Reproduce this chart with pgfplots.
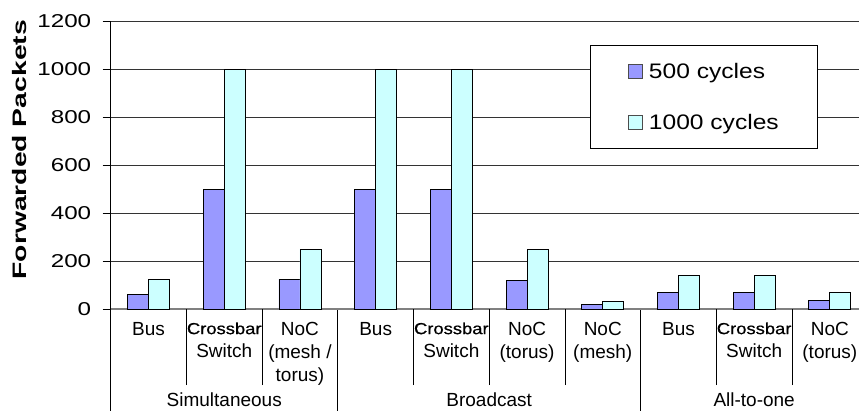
\documentclass[border=0pt]{standalone}
\usepackage{fontspec}
\setmainfont{Liberation Sans}
\newfontfamily\wideA[FakeStretch=1.3]{Liberation Sans}
\newfontfamily\wideB[FakeStretch=1.17]{Liberation Sans}
\newfontfamily\wideC[FakeStretch=1.15,FakeBold=0.6]{Liberation Sans}
\newfontfamily\ylabfont[FakeStretch=1.45]{Liberation Sans}
\usepackage{pgfplots}
\pgfplotsset{compat=1.18}
\definecolor{barA}{HTML}{9999FF}
\definecolor{barB}{HTML}{CCFFFF}
\pgfplotsset{mylegend/.style={legend image code/.code={\draw[##1, draw=black!70, line width=0.6pt] (0pt,-7pt) rectangle (14pt,7pt);}}}
\begin{document}
\begin{tikzpicture}
\begin{axis}[
  scale only axis, width=748.3pt, height=288pt,
  xmin=-0.5, xmax=9.385, ymin=0, ymax=1200,
  ybar=0pt, bar width=21pt,
  every axis plot post/.append style={mylegend},
  clip=false,
  axis x line*=bottom, axis y line*=left,
  ytick={0,200,...,1200},
  ymajorgrids, major grid style={black!80, line width=0.8pt},
  y axis line style={black, line width=0.8pt},
  x axis line style={black!50, line width=1.6pt},
  tick align=outside,
  major tick length=8pt,
  ytick style={draw=black, line width=0.8pt},
  /pgf/number format/assume math mode=true,
  /pgf/number format/1000 sep={},
  yticklabel style={font=\wideA\fontsize{18.6}{20}\selectfont, xshift=-8pt},
  ylabel={Forwarded Packets},
  ylabel style={font=\ylabfont\bfseries\fontsize{19.5}{22}\selectfont, at={(axis description cs:-0.1212,0.553)}, anchor=center},
  xtick={0,...,9},
  xtick style={draw=none},
  xticklabels={Bus,{{\wideC\fontsize{16}{18}\selectfont Crossbar}\\Switch},{NoC\\(mesh /\\torus)},Bus,{{\wideC\fontsize{16}{18}\selectfont Crossbar}\\Switch},{NoC\\(torus)},{NoC\\(mesh)},Bus,{{\wideC\fontsize{16}{18}\selectfont Crossbar}\\Switch},{NoC\\(torus)}},
  xticklabel style={font=\fontsize{19}{23}\selectfont, align=center, anchor=north, yshift=-2pt},
  minor xtick={-0.5,2.5,6.5},
  minor tick length=110pt,
  minor x tick style={draw=black, line width=0.8pt},
  extra x ticks={0.5,1.5,3.5,4.5,5.5,7.5,8.5},
  extra x tick labels={},
  extra x tick style={major tick length=76pt, xtick style={draw=black, line width=0.8pt}},
  legend style={at={(rel axis cs:0.6405,0.9167)}, anchor=north west, draw=black, line width=0.8pt, fill=white, inner xsep=38pt, inner ysep=17pt, row sep=32pt, column sep=5pt, font=\wideB\fontsize{21}{24}\selectfont, nodes={inner sep=1pt}},
  legend cell align=left,
]
\addplot[fill=barA, draw=black, line width=0.9pt] coordinates {(0,62.5) (1,500) (2,125) (3,500) (4,500) (5,120) (6,17) (7,70) (8,70) (9,35)};
\addplot[fill=barB, draw=black, line width=0.9pt] coordinates {(0,125) (1,1000) (2,250) (3,1000) (4,1000) (5,250) (6,33) (7,140) (8,140) (9,70)};
\legend{500 cycles,1000 cycles}
\node[anchor=base, font=\fontsize{19}{22}\selectfont] at (axis cs:1,0) [yshift=-97pt] {Simultaneous};
\node[anchor=base, font=\fontsize{19}{22}\selectfont] at (axis cs:4.5,0) [yshift=-97pt] {Broadcast};
\node[anchor=base, font=\fontsize{19}{22}\selectfont] at (axis cs:8,0) [yshift=-97pt] {All-to-one};
\end{axis}
\pgfresetboundingbox
\useasboundingbox (-110.7pt,-101pt) rectangle (748.3pt,309pt);
\end{tikzpicture}
\end{document}
